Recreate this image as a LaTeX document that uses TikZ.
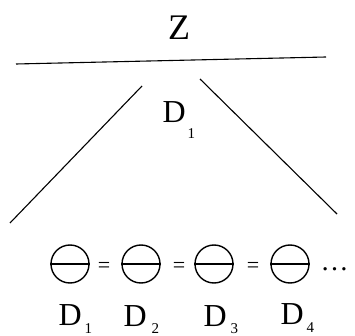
\documentclass[tikz,border=0pt]{standalone}
\usepackage{fontspec}
\setmainfont{Liberation Serif}
\begin{document}
\begin{tikzpicture}[x=1pt,y=-1pt,line width=1.1pt,
  big/.style={inner sep=0pt,anchor=base west,font=\fontsize{32}{32}\selectfont},
  sub/.style={inner sep=0pt,anchor=base west,font=\fontsize{15}{15}\selectfont},
  eq/.style={inner sep=0pt,anchor=base,font=\fontsize{22}{22}\selectfont},
  disc/.style={circle,draw,minimum size=38pt,inner sep=0pt,line width=1.4pt}]
\useasboundingbox (0,0) rectangle (355,336);
% top
\node[inner sep=0pt,anchor=base,font=\fontsize{36}{36}\selectfont] (z) at (179,40) {Z};
\coordinate (hl) at (16,64);
\coordinate (hr) at (326,57);
\draw (hl) -- (hr);
\coordinate (lt) at (142,86);
\coordinate (lb) at (10,223);
\coordinate (rt) at (200,79);
\coordinate (rb) at (337,214);
\draw (lt) -- (lb);
\draw (rt) -- (rb);
\node[big] (dm) at (162,123) {D};
\node[sub] (dms) at (187,139) {1};
% bottom
\node[disc] (c1) at (70,264) {};
\node[disc] (c2) at (141,264) {};
\node[disc] (c3) at (214,264) {};
\node[disc] (c4) at (290,264) {};
\foreach \c in {c1,c2,c3,c4} \draw[line width=1.4pt] (\c.west) -- (\c.east);
\node[eq] (e1) at (104,272) {=};
\node[eq] (e2) at (179,272) {=};
\node[eq] (e3) at (253,272) {=};
\node[inner sep=0pt,anchor=base west,font=\fontsize{28}{28}\selectfont] (dots) at (320,270) {\ldots};
\node[big] (d1) at (58,325) {D};
\node[sub] (d1s) at (84,333) {1};
\node[big] (d2) at (123,326) {D};
\node[sub] (d2s) at (151,333) {2};
\node[big] (d3) at (203,326) {D};
\node[sub] (d3s) at (230,333) {3};
\node[big] (d4) at (280,324) {D};
\node[sub] (d4s) at (306,332) {4};
\end{tikzpicture}
\end{document}
